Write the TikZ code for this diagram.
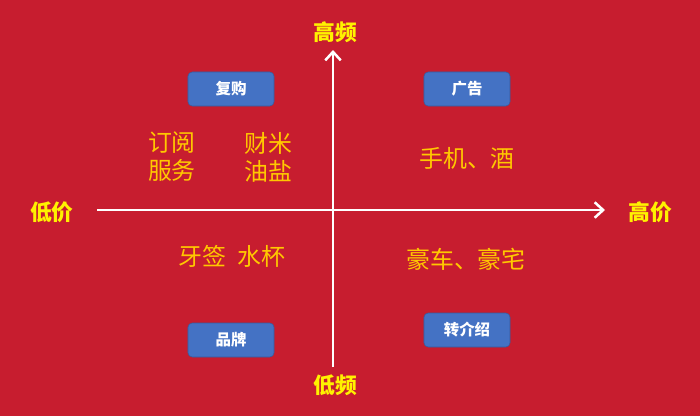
\documentclass[tikz,border=0pt]{standalone}
\usepackage{fontspec}
\newfontfamily\cjk{Noto Sans CJK SC}
\usetikzlibrary{arrows.meta, positioning}
\definecolor{bgred}{RGB}{199,29,47}
\definecolor{tagblue}{RGB}{68,114,196}
\definecolor{goldtext}{RGB}{255,200,0}

\begin{document}
\begin{tikzpicture}[
  x=0.025cm, y=-0.025cm,
  tag/.style={rectangle, rounded corners=3pt, draw=tagblue!80!black, fill=tagblue, text=white, minimum width=2.15cm, minimum height=0.85cm, font=\cjk\bfseries\fontsize{11}{12}\selectfont},
  axislabel/.style={text=yellow, font=\cjk\bfseries\fontsize{15.5}{17}\selectfont},
  item/.style={text=goldtext, align=center, font=\cjk\fontsize{17}{20}\selectfont},
  axis/.style={-{Straight Barb[length=6pt, width=11pt]}, white, line width=1.8pt},
]
  \fill[bgred] (0,0) rectangle (700,416);

  % axes
  \coordinate (xl) at (97,210);
  \coordinate (xr) at (605,210);
  \coordinate (yb) at (333,367);
  \coordinate (yt) at (333,50);
  \draw[axis] (xl) -- (xr);
  \draw[axis] (yb) -- (yt);

  \node[axislabel] (hifreq) at (335,32) {高频};
  \node[axislabel] (lofreq) at (335,385) {低频};
  \node[axislabel] (loprice) at (52,212) {低价};
  \node[axislabel] (hiprice) at (650,212) {高价};

  \node[tag] (rebuy) at (231,89) {复购};
  \node[tag] (ads) at (467,89) {广告};
  \node[tag] (brand) at (231,340) {品牌};
  \node[tag] (referral) at (467,330) {转介绍};

  \node[item] (subs) at (172,157) {订阅\\服务};
  \node[item] (daily) at (268,157) {财米\\油盐};
  \node[item] (phone) at (467,158) {手机、酒};
  \node[item] (cheap) at (232,256) {牙签\hspace{0.5em}水杯};
  \node[item] (luxury) at (466,259) {豪车、豪宅};
\end{tikzpicture}
\end{document}
